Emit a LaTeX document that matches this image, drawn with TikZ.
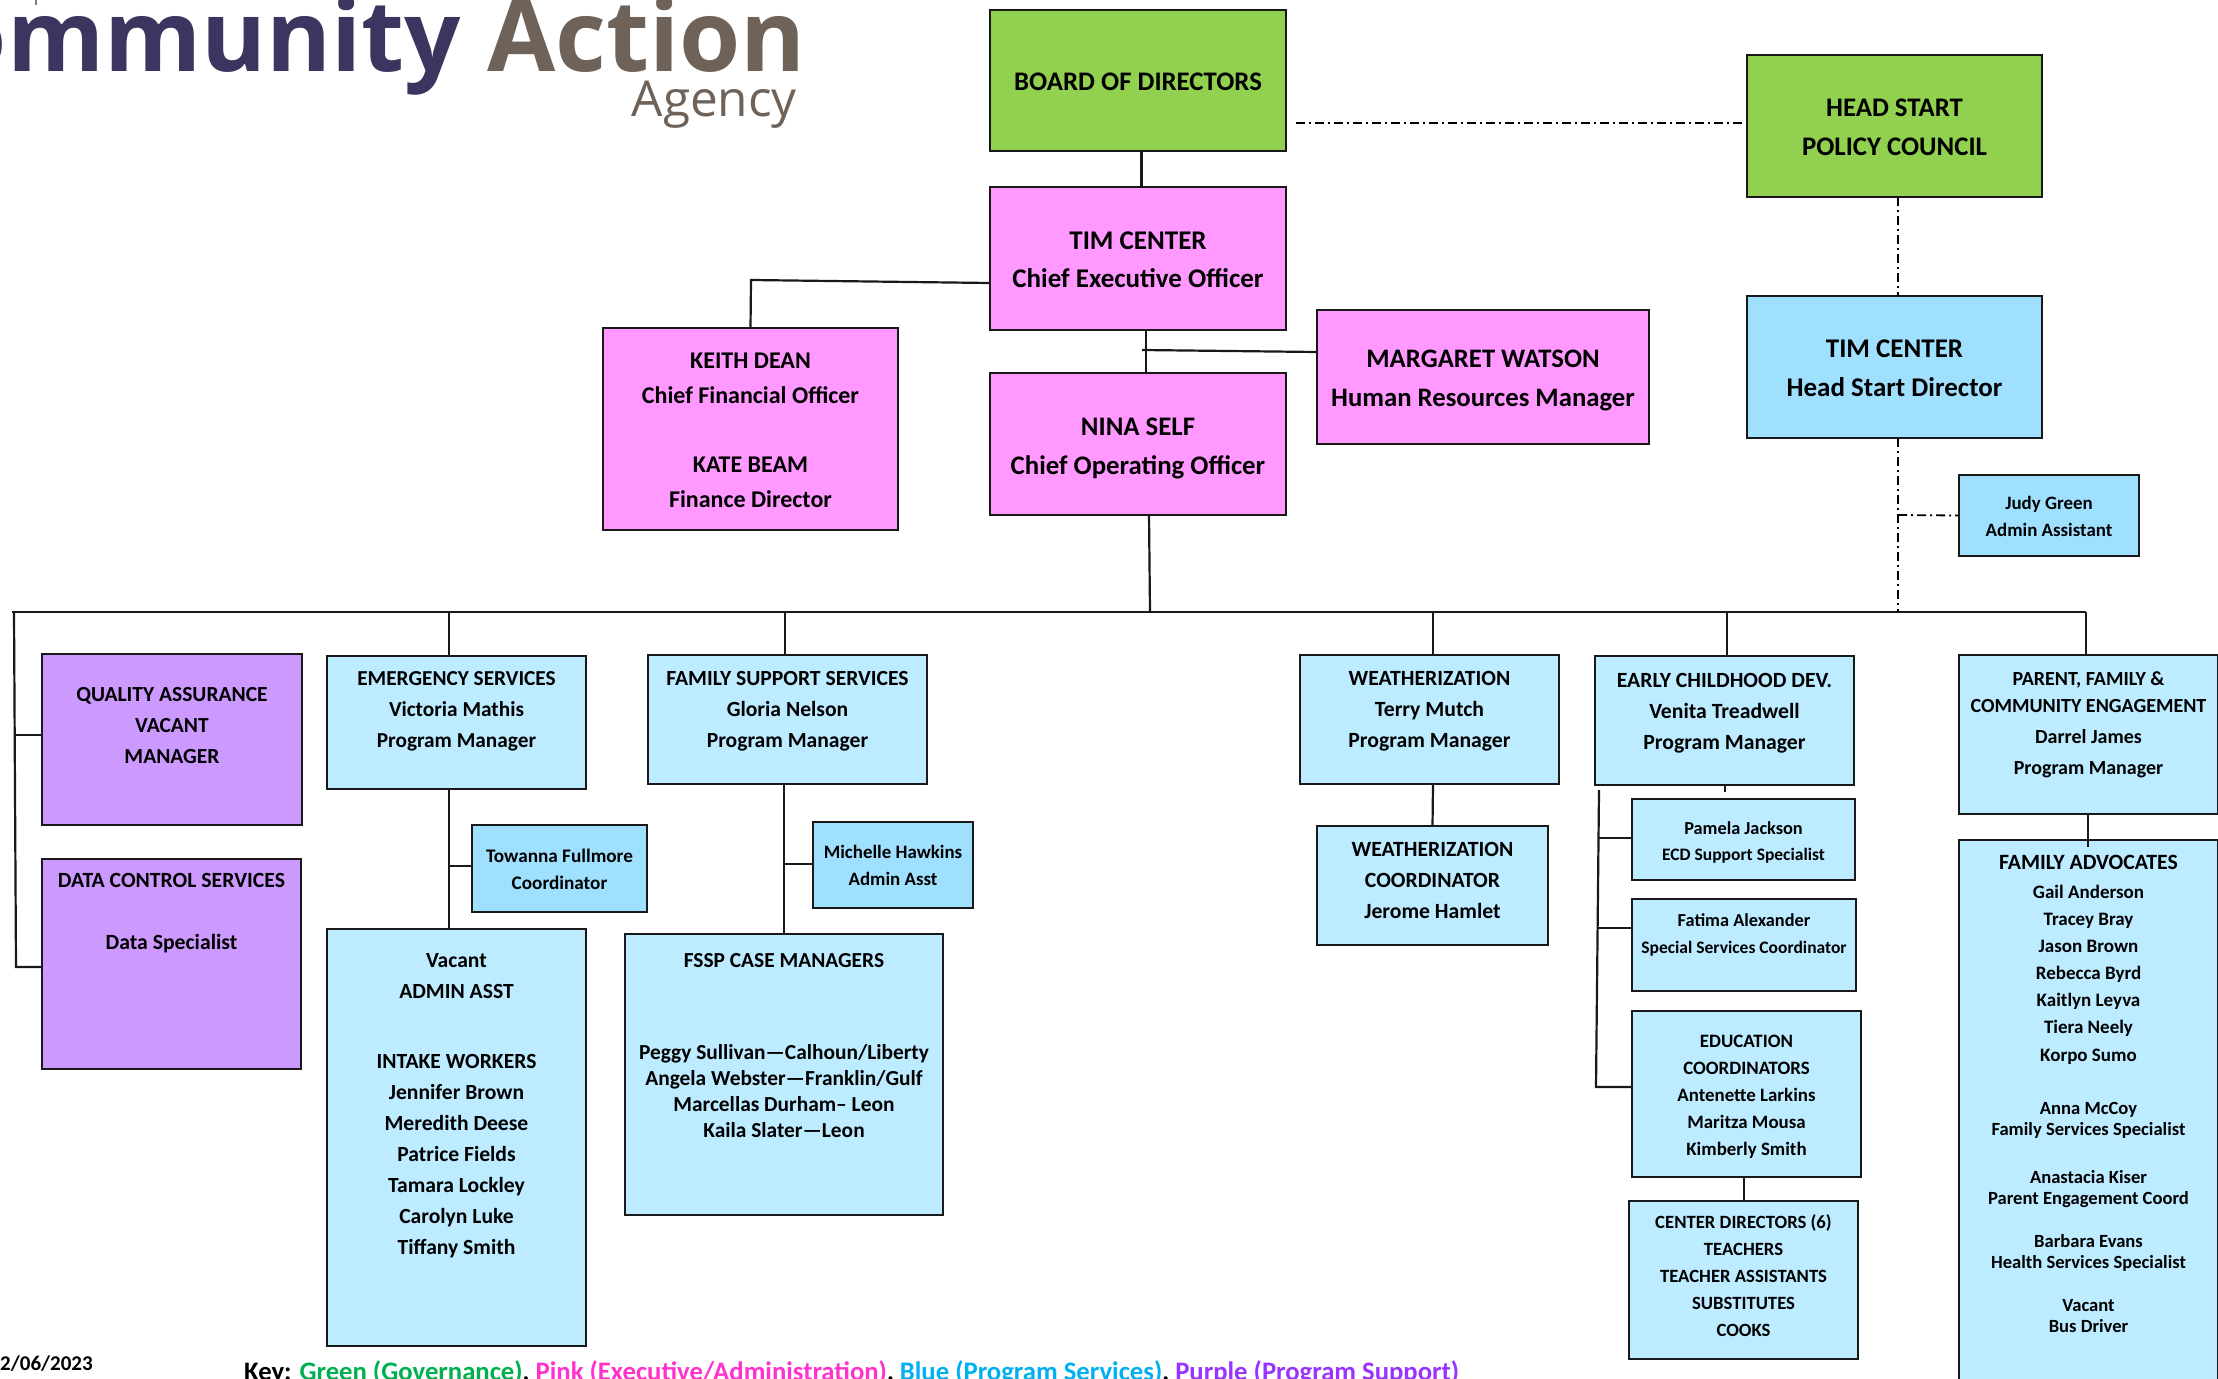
\documentclass[tikz,border=0pt]{standalone}
\usepackage{fontspec}
\setmainfont{Carlito}
\newfontfamily\logofont{Open Sans}
\definecolor{gov}{HTML}{92D050}
\definecolor{exec}{HTML}{FF99FF}
\definecolor{prog}{HTML}{BDEBFF}
\definecolor{progb}{HTML}{A0E0FF}
\definecolor{supp}{HTML}{CC99FF}
\definecolor{navy}{HTML}{3D3560}
\definecolor{taupe}{HTML}{6E6259}
\definecolor{keygreen}{HTML}{00B050}
\definecolor{keypink}{HTML}{FF33CC}
\definecolor{keyblue}{HTML}{00B0F0}
\definecolor{keypurple}{HTML}{9933FF}
\tikzset{
  orgbox/.style={draw=black!90,line width=2.4pt,inner sep=0pt,outer sep=0pt,anchor=north west,font=\bfseries},
  govbox/.style={orgbox,fill=gov},
  execbox/.style={orgbox,fill=exec},
  progbox/.style={orgbox,fill=prog},
  progbbox/.style={orgbox,fill=progb},
  suppbox/.style={orgbox,fill=supp},
  link/.style={draw=black!90,line width=2.2pt},
  dotlink/.style={draw=black,line width=1.8pt,dash pattern=on 9pt off 4pt on 2pt off 4pt},
}
\newcommand\tf[3]{\fontsize{#1}{#2}\selectfont\rule{0pt}{#3pt}\ignorespaces}
\newcommand\bx[7]{%
  \pgfmathsetlengthmacro\bw{#5-#3}%
  \pgfmathsetlengthmacro\bh{#6-#4}%
  \node[#1] (#2) at (#3,#4) {\parbox[c][\bh][t]{\bw}{\centering #7}};%
}
\begin{document}
\begin{tikzpicture}[x=1pt,y=-1pt]
\useasboundingbox (0,0) rectangle (2218,1378);
\clip (0,0) rectangle (2218,1378);
% logo
\node[anchor=base east,inner sep=0pt,font=\logofont\bfseries\fontsize{99}{99}\selectfont] (logo) at (806,72) {\textcolor{navy}{Community} \textcolor{taupe}{Action}};
\node[anchor=base east,inner sep=0pt,font=\logofont\fontsize{49.5}{49.5}\selectfont,text=taupe] (agency) at (797,117) {Agency};
\fill[gray] (35,0) rectangle (37,5);
% top boxes
\bx{govbox}{board}{990}{10}{1286}{151}{\tf{26.8}{38}{81}BOARD OF DIRECTORS}
\bx{govbox}{policy}{1747}{55}{2042}{197}{\tf{26.8}{39}{61}HEAD START\\POLICY COUNCIL}
\bx{execbox}{ceo}{990}{187}{1286}{330}{\tf{27}{38}{62}TIM CENTER\\Chief Executive Officer}
\bx{execbox}{coo}{990}{373}{1286}{515}{\tf{26.8}{39}{62}NINA SELF\\Chief Operating Officer}
\bx{execbox}{hr}{1317}{310}{1649}{444}{\tf{26.7}{39}{57}MARGARET WATSON\\Human Resources Manager}
\bx{execbox}{cfo}{603}{328}{898}{530}{\tf{24}{35}{40}KEITH DEAN\\Chief Financial Officer\\[34pt]KATE BEAM\\Finance Director}
\bx{progbbox}{hsd}{1747}{296}{2042}{438}{\tf{27}{39}{61}TIM CENTER\\Head Start Director}
\bx{progbbox}{judy}{1959}{475}{2139}{556}{\tf{18.9}{27}{34}Judy Green\\Admin Assistant}
% support
\bx{suppbox}{qa}{42}{654}{302}{825}{\tf{21.5}{31}{47}QUALITY ASSURANCE\\VACANT\\MANAGER}
\bx{suppbox}{data}{42}{859}{301}{1069}{\tf{21.7}{31}{28}DATA CONTROL SERVICES\\[31pt]Data Specialist}
% emergency
\bx{progbox}{emerg}{327}{656}{586}{789}{\tf{21.3}{31}{29}EMERGENCY SERVICES\\Victoria Mathis\\Program Manager}
\bx{progbbox}{tow}{472}{825}{647}{912}{\tf{19.2}{27}{37}Towanna Fullmore\\Coordinator}
\bx{progbox}{intake}{327}{929}{586}{1346}{\tf{21.6}{31}{38}Vacant\\ADMIN ASST\\[39pt]INTAKE WORKERS\\Jennifer Brown\\Meredith Deese\\Patrice Fields\\Tamara Lockley\\Carolyn Luke\\Tiffany Smith}
% family support
\bx{progbox}{fam}{648}{655}{927}{784}{\tf{21.6}{31}{30}FAMILY SUPPORT SERVICES\\Gloria Nelson\\Program Manager}
\bx{progbbox}{mich}{813}{822}{973}{908}{\tf{18.9}{27}{36}Michelle Hawkins\\Admin Asst}
\bx{progbox}{fssp}{625}{934}{943}{1215}{\tf{21.4}{26}{33}FSSP CASE MANAGERS\\[66pt]Peggy Sullivan---Calhoun/Liberty\\Angela Webster---Franklin/Gulf\\Marcellas Durham-- Leon\\Kaila Slater---Leon}
% weatherization
\bx{progbox}{wx}{1300}{655}{1559}{784}{\tf{21.7}{31}{30}WEATHERIZATION\\Terry Mutch\\Program Manager}
\bx{progbox}{wxc}{1317}{826}{1548}{945}{\tf{21.7}{31}{30}WEATHERIZATION\\COORDINATOR\\Jerome Hamlet}
% early childhood
\bx{progbox}{ecd}{1595}{656}{1854}{785}{\tf{21.7}{31}{31}EARLY CHILDHOOD DEV.\\Venita Treadwell\\Program Manager}
\bx{progbox}{pam}{1632}{799}{1855}{880}{\tf{18.3}{26}{35}Pamela Jackson\\\fontsize{17.5}{26}\selectfont ECD Support Specialist}
\bx{progbox}{fat}{1632}{899}{1856}{991}{\tf{18.3}{27}{27}Fatima Alexander\\\fontsize{17.5}{27}\selectfont Special Services Coordinator}
\bx{progbox}{edu}{1632}{1011}{1861}{1177}{\tf{18.9}{27}{36}EDUCATION\\COORDINATORS\\Antenette Larkins\\Maritza Mousa\\Kimberly Smith}
\bx{progbox}{cdir}{1629}{1201}{1858}{1359}{\tf{18.7}{27}{27}CENTER DIRECTORS (6)\\TEACHERS\\TEACHER ASSISTANTS\\SUBSTITUTES\\COOKS}
% parent family
\bx{progbox}{pfce}{1959}{655}{2218}{814}{\tf{20}{27}{30}PARENT, FAMILY \&\\COMMUNITY ENGAGEMENT\\[4pt]Darrel James\\[4pt]Program Manager}
\bx{progbox}{adv}{1959}{840}{2218}{1400}{\tf{21.8}{27}{29}FAMILY ADVOCATES\\[2pt]\fontsize{19}{27}\selectfont Gail Anderson\\Tracey Bray\\Jason Brown\\Rebecca Byrd\\Kaitlyn Leyva\\Tiera Neely\\[1pt]Korpo Sumo\\[32pt]\fontsize{18.6}{21}\selectfont Anna McCoy\\Family Services Specialist\\[27pt]Anastacia Kiser\\Parent Engagement Coord\\[22pt]Barbara Evans\\Health Services Specialist\\[22pt]Vacant\\Bus Driver}
% free coordinates
\coordinate (busL) at (14,612);
\coordinate (busR) at (2086,612);
\coordinate (busC) at (1150,612);
\coordinate (leftEnd) at (16,967);
\coordinate (qaJ) at (15,735);
\coordinate (cfoJ) at (751,280);
\coordinate (hrJ) at (1142,350);
\coordinate (towJ) at (449,866);
\coordinate (michJ) at (784,864);
\coordinate (ecdTop) at (1599,790);
\coordinate (ecdBot) at (1596,1087);
\coordinate (judyJ) at (1898,515);
\coordinate (ecdStub) at (1725,792);
% solid connectors
\draw[link] (board.south west) ++(151.5,0) -- ([xshift=151.5pt]ceo.north west);
\draw[link] (ceo.west |- 0,283) -- (cfoJ) -- (cfo.north);
\draw[link] ([xshift=156pt]ceo.south west) -- ([xshift=156pt]coo.north west);
\draw[link] (hrJ) -- (hr.west |- 0,352);
\draw[link] ([xshift=159pt]coo.south west) -- (busC);
\draw[link] ([xshift=-2pt]busL) -- (busR);
\draw[link] (busL) -- (leftEnd) -- (data.west |- leftEnd);
\draw[link] (qaJ) -- (qa.west |- qaJ);
\draw[link] (emerg.north west |- busL) ++(122,0) -- ([xshift=122pt]emerg.north west);
\draw[link] ([xshift=122pt]emerg.south west) -- ([xshift=122pt]intake.north west);
\draw[link] (towJ) -- (tow.west |- towJ);
\draw[link] (busL -| fam.north) ++(-2.5,0) -- ([xshift=-2.5pt]fam.north);
\draw[link] ([xshift=136pt]fam.south west) -- (michJ |- fssp.north);
\draw[link] (michJ) -- (mich.west |- michJ);
\draw[link] (busL -| wx.north) ++(3.5,0) -- ([xshift=3.5pt]wx.north);
\draw[link] ([xshift=3.5pt]wx.south) -- (wxc.north);
\draw[link] (busL -| ecd.north) ++(2.5,0) -- ([xshift=2.5pt]ecd.north);
\draw[link] ([xshift=130pt]ecd.south west) -- (ecdStub);
\draw[link] (ecdTop) -- (ecdBot) -- (edu.west |- ecdBot);
\draw[link] (1598,838) -- (pam.west |- 0,838);
\draw[link] (1597,928) -- (fat.west |- 0,928);
\draw[link] ([xshift=112pt]edu.south west) -- ([xshift=115pt]cdir.north west);
\draw[link] (busR) -- (busR |- pfce.north);
\draw[link] (pfce.south west) ++(129,0) -- ([xshift=129pt,yshift=-7pt]adv.north west);
% dash-dot connectors
\draw[dotlink] ([xshift=10pt]board.east |- 0,123) -- ([xshift=-4pt]policy.west |- 0,123);
\draw[dotlink] ([xshift=151pt]policy.south west) -- ([xshift=151pt]hsd.north west);
\draw[dotlink] ([xshift=151pt]hsd.south west) -- (judyJ) -- (judyJ |- busR);
\draw[dotlink] (judyJ) -- (judy.west);
% date and key
\node[anchor=base west,inner sep=0pt,font=\bfseries\fontsize{21}{21}\selectfont] (date) at (0,1370) {2/06/2023};
\node[anchor=base west,inner sep=0pt,font=\bfseries\fontsize{26.7}{26.7}\selectfont] (key) at (244,1380) {Key: \textcolor{keygreen}{Green (Governance)}, \textcolor{keypink}{Pink (Executive/Administration)}, \textcolor{keyblue}{Blue (Program Services)}, \textcolor{keypurple}{Purple (Program Support)}};
\end{tikzpicture}
\end{document}
